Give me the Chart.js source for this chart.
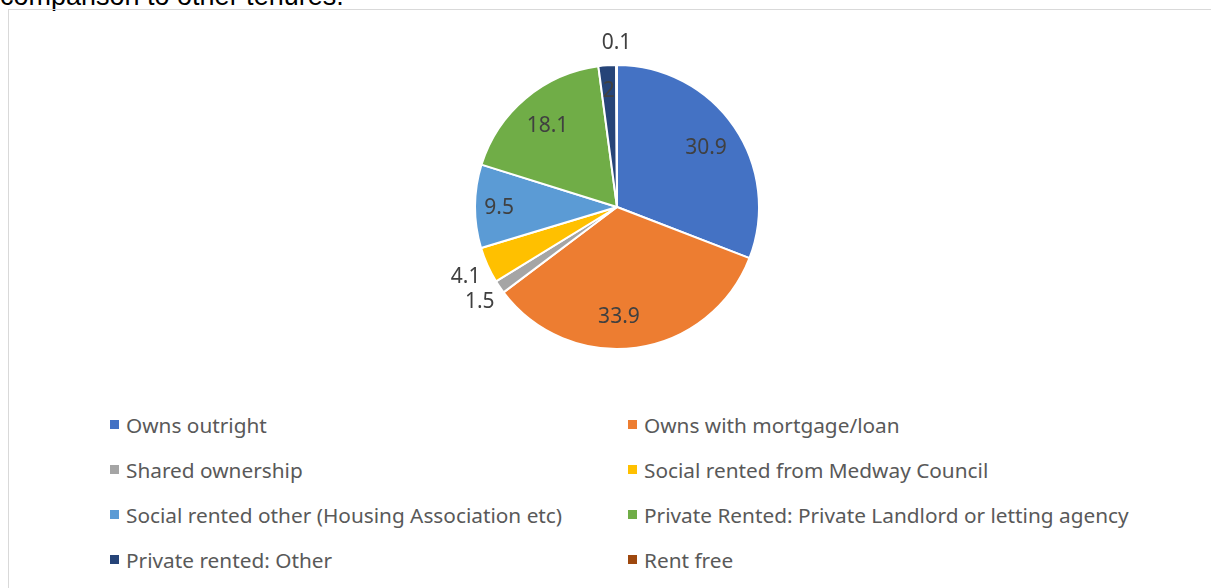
<!DOCTYPE html>
<html>
<head>
<meta charset="utf-8">
<script src="https://cdn.jsdelivr.net/npm/chart.js@4/dist/chart.umd.min.js"></script>
<style>
  html, body { margin: 0; padding: 0; background: #fff; overflow: hidden; }
  body { width: 1211px; height: 588px; position: relative; }
  .lead {
    position: absolute; left: 0; top: -17px;
    font: 27px "Liberation Sans", Arial, sans-serif; line-height: 27px;
    color: #000; white-space: nowrap;
  }
  .box {
    position: absolute; left: 8px; top: 9px; width: 1240px; height: 620px;
    border: 1px solid #d9d9d9; box-sizing: border-box;
  }
  .chart-wrap { position: absolute; left: 9px; top: 10px; width: 1202px; height: 380px; }
  .legend {
    position: absolute; left: 110px; top: 402px; width: 1050px;
    display: grid; grid-template-columns: 518px 520px; row-gap: 0;
    font: 20.8px "Noto Sans", sans-serif; color: #595959;
  }
  .legend .item { height: 45px; display: flex; align-items: center; white-space: nowrap; }
  .legend .sw { width: 9px; height: 9px; margin-right: 7px; flex: none; }
</style>
</head>
<body>
<div class="lead">comparison to other tenures.</div>
<div class="box"></div>
<div class="chart-wrap"><canvas id="chartTenure"></canvas></div>
<div class="legend" id="legend"></div>
<script>
const tenureLabels = [
  "Owns outright",
  "Owns with mortgage/loan",
  "Shared ownership",
  "Social rented from Medway Council",
  "Social rented other (Housing Association etc)",
  "Private Rented: Private Landlord or letting agency",
  "Private rented: Other",
  "Rent free",
];
const tenureValues = [30.9, 33.9, 1.5, 4.1, 9.5, 18.1, 2, 0.1];
const tenureColors = ["#4472C4", "#ED7D31", "#A5A5A5", "#FFC000", "#5B9BD5", "#70AD47", "#264478", "#9E480E"];

// excel "best fit": small slices get their label outside
const labelOutside = [false, false, true, true, false, false, false, true];

const sliceLabels = {
  id: "sliceLabels",
  afterDatasetsDraw(chart) {
    const { ctx } = chart;
    const meta = chart.getDatasetMeta(0);
    ctx.save();
    ctx.font = '21px "Noto Sans", sans-serif';
    ctx.fillStyle = "#404040";
    ctx.textAlign = "center";
    ctx.textBaseline = "middle";
    meta.data.forEach((arc, i) => {
      const p = arc.getProps(["x", "y", "startAngle", "endAngle", "outerRadius"], true);
      let mid = (p.startAngle + p.endAngle) / 2;
      if (i === 1) mid += 0.12;
      let dist = p.outerRadius * (i === 4 || i === 6 ? 0.83 : 0.76);
      if (labelOutside[i]) dist = p.outerRadius + 24;
      const x = p.x + Math.cos(mid) * dist;
      const y = p.y + Math.sin(mid) * dist + 2;
      ctx.fillText(String(tenureValues[i]), x, y);
    });
    ctx.restore();
  },
};

const chart = new Chart(document.getElementById("chartTenure"), {
  type: "pie",
  data: {
    labels: tenureLabels,
    datasets: [
      {
        data: tenureValues,
        backgroundColor: tenureColors,
        borderColor: "#ffffff",
        borderWidth: 2,
      },
    ],
  },
  options: {
    responsive: true,
    maintainAspectRatio: false,
    animation: false,
    layout: { padding: { top: 54, bottom: 40, left: 14, right: 0 } },
    plugins: {
      legend: { display: false },
      tooltip: { enabled: false },
    },
  },
  plugins: [sliceLabels],
});

function renderLegend() {
  const el = document.getElementById("legend");
  el.innerHTML = tenureLabels
    .map((l, i) => `<div class="item"><span class="sw" style="background:${tenureColors[i]}"></span>${l}</div>`)
    .join("");
}

renderLegend();
</script>
</body>
</html>
